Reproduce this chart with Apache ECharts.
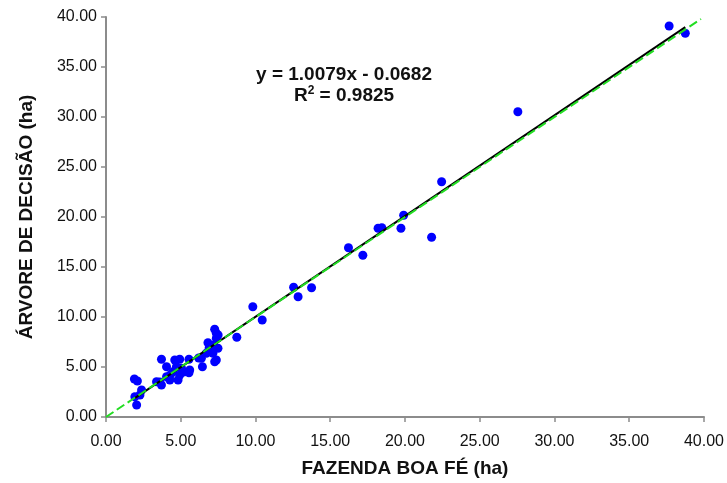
<!DOCTYPE html>
<html>
<head>
<meta charset="utf-8">
<script src="https://cdn.jsdelivr.net/npm/echarts@6/dist/echarts.min.js"></script>
<style>
  html, body { margin: 0; padding: 0; background: #fff; }
  #chart { width: 727px; height: 483px; }
</style>
</head>
<body>
<div id="chart"></div>
<script>
// FAZENDA BOA FÉ (x) vs ÁRVORE DE DECISÃO (y), areas in ha
const fazendaBoaFe = [
  1.9, 2.1, 1.93, 2.05, 2.38, 2.27, 3.38, 3.71, 3.71, 4.05,
  4.05, 4.6, 4.93, 4.71, 4.49, 4.93, 4.82, 4.27, 5.55, 5.6,
  5.55, 5.05, 6.45, 6.38, 6.71, 6.82, 7.05, 7.27, 7.38, 7.38,
  7.49, 7.38, 7.27, 7.15, 3.6, 4.3, 5.2, 6.2, 6.9, 7.2,
  7.5, 8.75, 9.82, 10.45, 12.55, 12.85, 13.75, 16.22, 17.18, 18.2,
  18.45, 19.73, 19.91, 21.78, 22.45, 27.55, 37.67, 38.75
];
const arvoreDecisao = [
  3.8, 3.6, 2.03, 1.2, 2.7, 2.2, 3.53, 3.2, 5.77, 4.03,
  5.03, 5.7, 5.77, 5.03, 4.53, 4.2, 3.7, 3.7, 5.77, 4.7,
  4.43, 4.87, 5.03, 5.87, 6.37, 7.43, 6.7, 8.77, 8.37, 7.87,
  6.87, 5.7, 5.53, 6.37, 3.5, 4.2, 4.5, 5.9, 6.9, 7.2,
  8.2, 7.97, 11.03, 9.7, 12.97, 12.03, 12.93, 16.93, 16.17, 18.87,
  18.93, 18.87, 20.17, 17.97, 23.53, 30.53, 39.1, 38.37
];

// linear trend (y = 1.0079x - 0.0682) endpoints and the 1:1 line
const trendX = [1.93, 38.75];
const trendY = [1.88, 38.99];
const oneToOneX = [0, 39.8];
const oneToOneY = [0, 39.8];

const xTicks = ['0.00', '5.00', '10.00', '15.00', '20.00', '25.00', '30.00', '35.00', '40.00'];
const equationText = 'y = 1.0079x - 0.0682';
const r2Value = '0.9825';

const zip = (a, b) => a.map((v, i) => [v, b[i]]);

const chart = echarts.init(document.getElementById('chart'));

const FONT = '"Liberation Sans", Arial, sans-serif';
const axisFont = { fontFamily: FONT, fontSize: 16, color: '#111' };
const nameFont = { fontFamily: FONT, fontSize: 19, fontWeight: 'bold', color: '#111' };

const option = {
  animation: false,
  backgroundColor: '#fff',
  grid: { left: 106, right: 22, top: 17, bottom: 66 },
  xAxis: {
    type: 'value',
    min: 0, max: 40, interval: 5,
    name: 'FAZENDA BOA FÉ (ha)',
    nameLocation: 'middle',
    nameGap: 42,
    nameTextStyle: nameFont,
    axisLine: { show: true, onZero: false, lineStyle: { color: '#8c8c8c', width: 2 } },
    axisTick: { show: true, inside: false, length: 5, lineStyle: { color: '#8c8c8c', width: 1.5 } },
    axisLabel: Object.assign({}, axisFont, {
      margin: 17,
      formatter: (v) => xTicks[Math.round(v / 5)]
    }),
    splitLine: { show: false }
  },
  yAxis: {
    type: 'value',
    min: 0, max: 40, interval: 5,
    name: 'ÁRVORE DE DECISÃO (ha)',
    nameLocation: 'middle',
    nameGap: 70,
    nameRotate: 90,
    nameTextStyle: nameFont,
    axisLine: { show: true, onZero: false, lineStyle: { color: '#8c8c8c', width: 2 } },
    axisTick: { show: true, inside: false, length: 5, lineStyle: { color: '#8c8c8c', width: 1.5 } },
    axisLabel: Object.assign({}, axisFont, {
      margin: 9,
      formatter: (v) => v.toFixed(2)
    }),
    splitLine: { show: false }
  },
  graphic: [
    {
      type: 'text',
      x: 344, y: 75,
      style: {
        text: equationText,
        align: 'center', verticalAlign: 'middle',
        font: 'bold 19px ' + FONT,
        fill: '#111'
      }
    },
    {
      type: 'text',
      x: 344, y: 95,
      style: {
        text: '{n|R}{s|2}{n| = ' + r2Value + '}',
        align: 'center', verticalAlign: 'middle',
        rich: {
          n: { font: 'bold 19px ' + FONT, fill: '#111', verticalAlign: 'bottom' },
          s: { font: 'bold 12px ' + FONT, fill: '#111', verticalAlign: 'top', padding: [0, 0, 8, 0] }
        }
      }
    }
  ],
  series: [
    {
      type: 'scatter',
      data: zip(fazendaBoaFe, arvoreDecisao),
      symbol: 'circle',
      symbolSize: 9,
      itemStyle: { color: '#0000ff', opacity: 1 },
      z: 2
    },
    {
      type: 'line',
      data: zip(trendX, trendY),
      showSymbol: false,
      symbol: 'none',
      lineStyle: { color: '#000', width: 2 },
      z: 3
    },
    {
      type: 'line',
      data: zip(oneToOneX, oneToOneY),
      showSymbol: false,
      symbol: 'none',
      lineStyle: { color: '#22dd22', width: 2, type: [9, 4] },
      z: 4
    }
  ]
};

chart.setOption(option);
</script>
</body>
</html>
